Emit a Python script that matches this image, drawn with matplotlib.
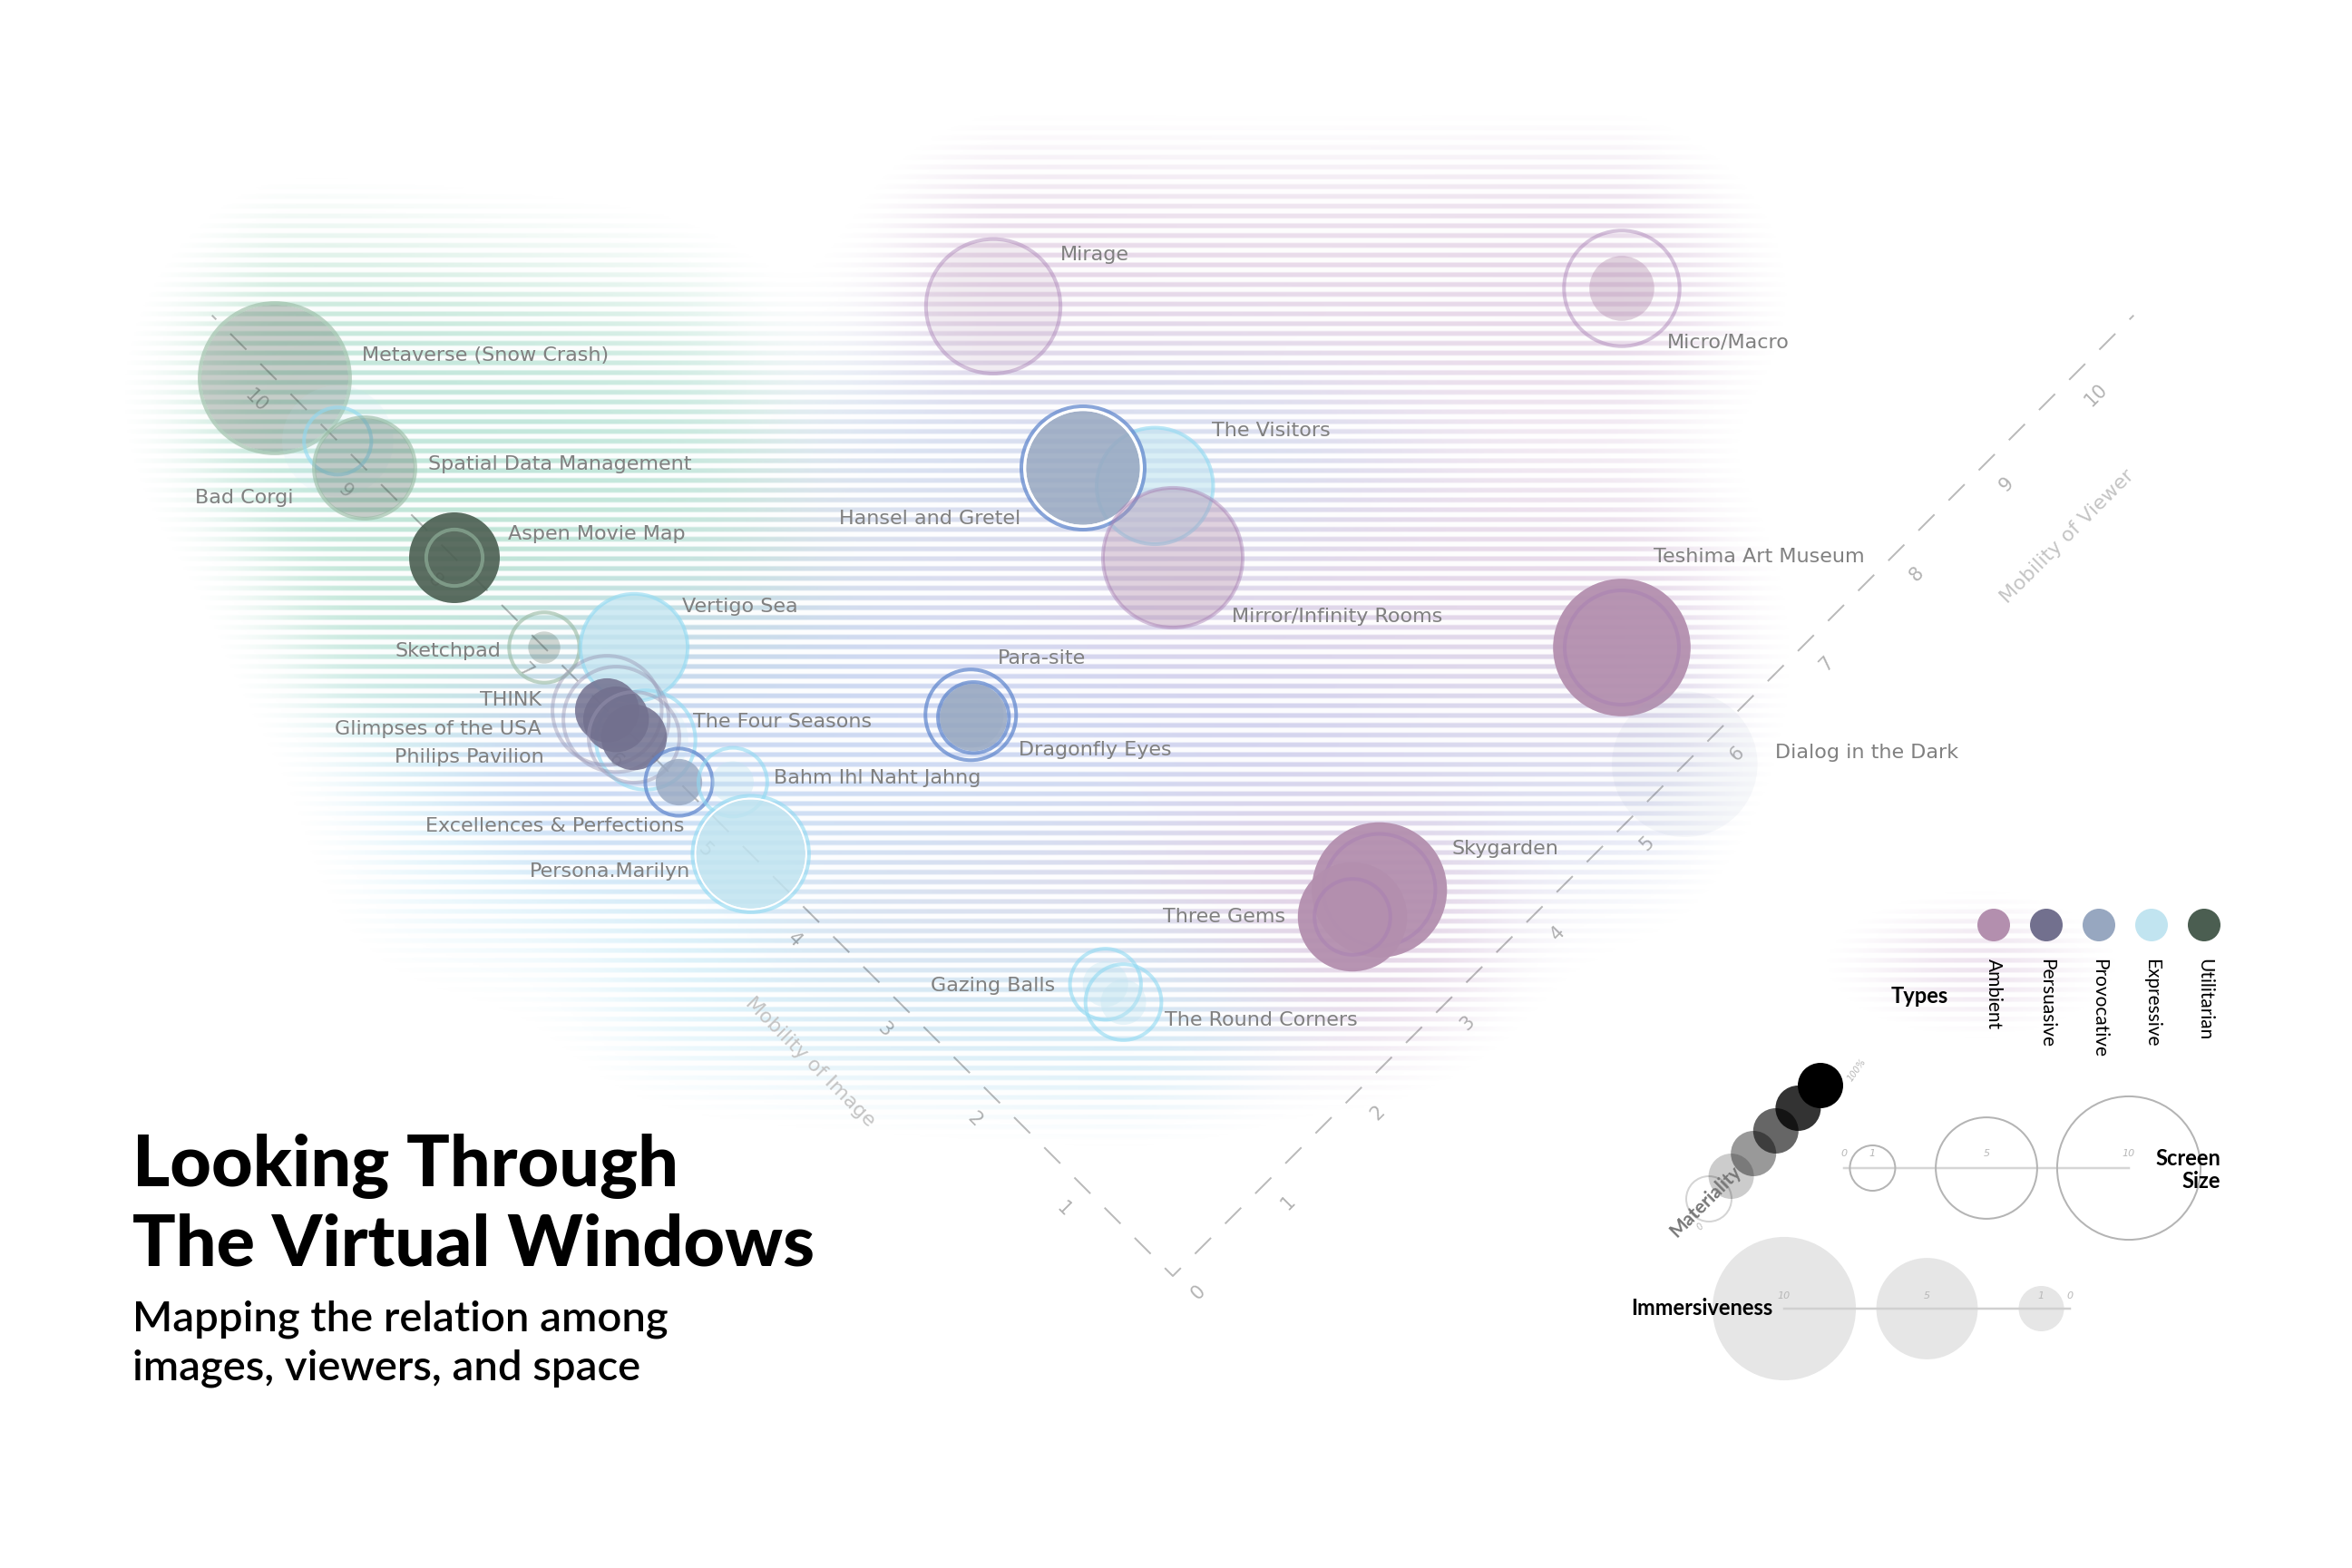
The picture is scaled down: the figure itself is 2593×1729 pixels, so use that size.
import numpy as np
import matplotlib.pyplot as plt
from matplotlib.patches import Circle
from matplotlib.transforms import Affine2D
from matplotlib.colors import to_rgb

plt.rcParams['lines.scale_dashes'] = False

W, H, DPI = 2593, 1729, 100
PX = 72.0 / DPI  # points per pixel

# Data
names = ['Metaverse (Snow Crash)', 'Bad Corgi', 'Spatial Data Management', 'Aspen Movie Map',
         'Sketchpad', 'Vertigo Sea', 'The Four Seasons', 'THINK', 'Glimpses of the USA',
         'Philips Pavilion', 'Excellences & Perfections', 'Bahm Ihl Naht Jahng', 'Persona.Marilyn',
         'Mirage', 'Micro/Macro', 'The Visitors', 'Hansel and Gretel', 'Mirror/Infinity Rooms',
         'Para-site', 'Dragonfly Eyes', 'Teshima Art Museum', 'Dialog in the Dark',
         'Skygarden', 'Three Gems', 'Gazing Balls', 'The Round Corners']
kinds = ['Utilitarian', 'Expressive', 'Utilitarian', 'Utilitarian', 'Utilitarian', 'Expressive',
         'Expressive', 'Persuasive', 'Persuasive', 'Persuasive', 'Provocative', 'Expressive',
         'Expressive', 'Ambient', 'Ambient', 'Expressive', 'Provocative', 'Ambient',
         'Provocative', 'Provocative', 'Ambient', 'Provocative', 'Ambient', 'Ambient',
         'Expressive', 'Expressive']
viewer_mob = [0, 0, 0, 0, 0, 0.5, 0.05, 0, 0, 0, 0, 0.3, 0,
              4.4, 8, 4.3, 4, 4, 2.0, 2.0, 6, 5.7, 3.3, 3.0, 1.25, 1.25]
image_mob = [10, 9.3, 9, 8, 7, 6.5, 5.92, 6.3, 6.2, 6.0, 5.5, 5.2, 4.7,
             6.4, 3, 4.5, 5, 4, 4.25, 4.22, 1, 0, 1.0, 1.0, 2.0, 1.8]
immersiveness = [10.5, 6.0, 4.8, 4.0, 0.5, 5.6, 3.5, 2.0, 2.1, 2.1, 1.05, 0.85, 5.8,
                 8.6, 2.05, 6.6, 6.3, 9.5, 2.1, 2.2, 9.2, 10.3, 8.9, 5.8, 1.0, 1.0]
screen_size = [11.0, 2.2, 5.0, 1.55, 2.4, 5.6, 4.8, 5.8, 5.4, 4.0, 2.2, 2.3, 6.6,
               8.8, 6.5, 6.6, 7.4, 9.5, 4.0, 2.45, 6.35, 0, 6.1, 2.8, 2.45, 2.8]
materiality = [0.3, 0.12, 0.3, 0.9, 0.25, 0.75, 0.2, 0.85, 0.85, 0.85, 0.8, 0.35, 0.85,
               0.15, 0.4, 0.6, 0.85, 0.4, 0.3, 0.85, 0.95, 0.08, 0.95, 0.95, 0.35, 0.35]

type_names = ['Ambient', 'Persuasive', 'Provocative', 'Expressive', 'Utilitarian']
axis_ticks = list(range(0, 11))
legend_screen = [1, 5, 10]
legend_immersive = [10, 5, 1]
legend_material = [0, 20, 40, 60, 80, 100]

# Styles
type_fill = {'Ambient': '#b38fae', 'Persuasive': '#72708e', 'Provocative': '#97a7c0',
             'Expressive': '#c1e4f0', 'Utilitarian': '#4b5e51'}
type_ring = {'Ambient': (0.65, 0.49, 0.70, 0.45), 'Persuasive': (0.60, 0.59, 0.70, 0.45),
             'Provocative': (0.37, 0.52, 0.80, 0.72), 'Expressive': (0.56, 0.85, 0.95, 0.6),
             'Utilitarian': (0.59, 0.72, 0.63, 0.6)}
type_halo = {'Ambient': '#c59fc8', 'Persuasive': '#7f7ce0', 'Provocative': '#9cafe2',
             'Expressive': '#98ddf3', 'Utilitarian': '#6cc296'}
halo_gain = {'Ambient': 1.4, 'Persuasive': 1.0, 'Provocative': 1.0, 'Expressive': 1.0,
             'Utilitarian': 1.4}

# label offsets from bubble centre (px) and alignment
label_pos = [(96, -25, 'left'), (-49, 63, 'right'), (70, -4, 'left'), (59, -26, 'left'),
             (-48, 4, 'right'), (53, -45, 'left'), (52, -20, 'left'), (-72, -11, 'right'),
             (-82, 11, 'right'), (-99, 22, 'right'), (6, 48, 'right'), (45, -5, 'left'),
             (-67, 19, 'right'), (74, -57, 'left'), (50, 59, 'left'), (63, -61, 'left'),
             (-69, 56, 'right'), (65, 65, 'left'), (30, -62, 'left'), (50, 36, 'left'),
             (35, -100, 'left'), (100, -13, 'left'), (80, -45, 'left'), (-74, 0, 'right'),
             (-56, 2, 'right'), (45, 20, 'left')]
# how far each striped halo reaches left / right beyond the bubble (px)
halo_reach = [(-30, 420), (0, 380), (0, 400), (100, 330), (180, 250), (250, 420),
              (250, 450), (60, 800), (60, 800), (60, 800), (100, 800), (150, 450),
              (350, 400), (-10, 700), (700, 0), (300, 100), (250, 300), (400, 500),
              (300, 700), (300, 700), (700, -20), (500, -110), (600, 20), (600, 10),
              (500, 100), (500, 100)]

fig = plt.figure(figsize=(W / DPI, H / DPI), dpi=DPI)
ax = fig.add_axes([0, 0, 1, 1])
ax.set_xlim(0, W)
ax.set_ylim(H, 0)
ax.axis('off')

# 45 degree chart: (viewer, image) -> pixels
UNIT = 99.0
OX, OY = 1293.0, 1407.0
grid = Affine2D(np.array([[UNIT, -UNIT, OX], [-UNIT, -UNIT, OY], [0, 0, 1.0]]))
chart = grid + ax.transData
SCALE = UNIT * np.sqrt(2)


def radius(v):
    return 25.0 * np.sqrt(v)


centres = grid.transform(np.column_stack([viewer_mob, image_mob]))

# striped halos behind the bubbles
step = 2
hs, ws = H // step + 1, W // step + 1
ys = (np.arange(hs) * step).astype(np.float32)[:, None]
xs = (np.arange(ws) * step).astype(np.float32)[None, :]
acc = np.zeros((hs, ws), np.float32)
col = np.zeros((hs, ws, 3), np.float32)

sources = []
for k in range(len(names)):
    xb, yb = centres[k]
    rr = max(radius(immersiveness[k]), radius(screen_size[k]))
    el, er = halo_reach[k]
    sources.append((xb, yb, xb - rr - el, xb + rr + er, 35 + 0.75 * rr,
                    type_halo[kinds[k]], halo_gain[kinds[k]]))
# small halo behind the types legend
sources.append((2198, 1062, 2100, 2240, 40, type_halo['Ambient'], 1.0))

for xb, yb, left, right, sy, hc, amp in sources:
    gx = 1 / (1 + np.exp(-(xs - left) / 45)) / (1 + np.exp(-(right - xs) / 45))
    gx = gx * np.exp(-np.abs(xs - xb) / 450)
    gy = np.exp(-0.5 * ((ys - yb) / sy) ** 2)
    w = amp * gy * gx
    acc += w
    col += w[..., None] * np.array(to_rgb(hc), np.float32)

acc = np.repeat(np.repeat(acc, step, 0), step, 1)[:H, :W]
col = np.repeat(np.repeat(col, step, 0), step, 1)[:H, :W]
rgb = col / np.maximum(acc, 1e-6)[..., None]
yy = np.arange(H, dtype=np.float32)[:, None]
stripe = np.clip(2.0 * (0.5 + 0.5 * np.cos(2 * np.pi * yy / 10.8)) - 0.55, 0, 1)
level = np.clip((1 - np.exp(-1.6 * acc) - 0.12) / 0.88, 0, 1)
alpha = 0.45 * level * (0.06 + 0.94 * stripe)
ax.imshow(np.dstack([rgb, alpha]), extent=(0, W, H, 0), zorder=0, interpolation='nearest')

# dashed axes
end = 10.7
axis_len = end * SCALE
on_px, off_px = 25.0, 22.0
offset_px = (-(axis_len - on_px / 2)) % (on_px + off_px)
ax.plot([0, 0, end], [end, 0, 0], transform=chart, color=(0, 0, 0, 0.27), lw=2 * PX,
        linestyle=(offset_px * PX, (on_px * PX, off_px * PX)), solid_capstyle='butt', zorder=1)

tick_kw = dict(fontsize=15, family='DejaVu Sans', color=(0, 0, 0, 0.3), ha='center',
               va='center', zorder=1)
for t in axis_ticks:
    x, y = grid.transform((t, 0))
    ax.text(x + 28, y + 18, str(t), rotation=45, **tick_kw)
    if t > 0:
        x, y = grid.transform((0, t))
        ax.text(x - 21, y + 25, str(t), rotation=-45, **tick_kw)

ax.text(893, 1171, 'Mobility of Image', rotation=-45, fontsize=16, family='DejaVu Sans',
        color='#c4c4c4', ha='center', va='center', zorder=1)
ax.text(2279, 592, 'Mobility of Viewer', rotation=45, fontsize=16, family='DejaVu Sans',
        color='#c4c4c4', ha='center', va='center', zorder=1)

# bubbles
for k in range(len(names)):
    c = (viewer_mob[k], image_mob[k])
    rf = radius(immersiveness[k])
    rs = radius(screen_size[k])
    z = 2 + 0.02 * k
    ax.add_patch(Circle(c, rf / SCALE, transform=chart, facecolor=type_fill[kinds[k]],
                        alpha=materiality[k], lw=0, zorder=z))
    if screen_size[k] > 0:
        gap = rs - rf
        if 2 < gap < 13 and materiality[k] >= 0.3 and rf > 40:
            ax.add_patch(Circle(c, (rf + rs - 2) / 2 / SCALE, transform=chart, fill=False,
                                ec='white', lw=(gap - 2) * PX, zorder=z + 0.005))
        ax.add_patch(Circle(c, rs / SCALE, transform=chart, fill=False,
                            ec=type_ring[kinds[k]], lw=4 * PX, zorder=z + 0.01))

for k, name in enumerate(names):
    dx, dy, ha = label_pos[k]
    ax.text(centres[k][0] + dx, centres[k][1] + dy, name, fontsize=16, family='DejaVu Sans',
            color='#808080', ha=ha, va='center', zorder=5)

# title
ax.text(146, 1308, 'Looking Through', fontsize=57, family='Lato', fontweight='black',
        va='baseline', color='black')
ax.text(146, 1395, 'The Virtual Windows', fontsize=57, family='Lato', fontweight='black',
        va='baseline', color='black')
ax.text(146, 1468, 'Mapping the relation among', fontsize=34, family='Lato',
        fontweight='semibold', va='baseline', color='black')
ax.text(146, 1522, 'images, viewers, and space', fontsize=34, family='Lato',
        fontweight='semibold', va='baseline', color='black')

# legend: types
for k, t in enumerate(type_names):
    x = 2198 + 58 * k
    ax.add_patch(Circle((x, 1020), 18, facecolor=type_fill[t], lw=0, zorder=3))
    ax.text(x, 1057, t, rotation=-90, fontsize=15, family='Lato', ha='center', va='top',
            color='black', zorder=3)
ax.text(2148, 1098, 'Types', fontsize=17, family='Lato', fontweight='bold', ha='right',
        va='center', zorder=3)

# legend: materiality
for m in legend_material:
    x = 1884 + 24.6 * m / 20
    y = 1322 - 25 * m / 20
    if m == 0:
        ax.add_patch(Circle((x, y), 25, fill=False, ec='#d4d4d4', lw=2 * PX, zorder=3))
    else:
        ax.add_patch(Circle((x, y), 25, facecolor='black', alpha=m / 100, lw=0, zorder=3))
ax.text(1880, 1325, 'Materiality', rotation=45, fontsize=15, family='Lato', fontweight='bold',
        color='#777777', ha='center', va='center', zorder=4)
ax.text(2047, 1180, '100%', rotation=55, fontsize=7, style='italic', color='#b8b8b8',
        ha='center', va='center')
ax.text(1875, 1353, '0', rotation=45, fontsize=7, style='italic', color='#b8b8b8',
        ha='center', va='center')

# legend: screen size
ax.plot([2033, 2033 + 31.4 * 10], [1288, 1288], color='#d6d6d6', lw=2.5 * PX, zorder=3)
for v in legend_screen:
    ax.add_patch(Circle((2033 + 31.4 * v, 1288), radius(v), fill=False, ec='#b4b4b4',
                        lw=2 * PX, zorder=3))
for v in [0] + legend_screen:
    ax.text(2033 + 31.4 * v, 1277, str(v), fontsize=8, style='italic', color='#b8b8b8',
            ha='center', va='bottom', zorder=4)
ax.text(2448, 1290, 'Screen\nSize', fontsize=17, family='Lato', fontweight='bold',
        ha='right', va='center', multialignment='right', linespacing=1.1, zorder=4)

# legend: immersiveness
for v in legend_immersive:
    ax.add_patch(Circle((2282 - 31.5 * v, 1443), radius(v), facecolor='#e6e6e6', lw=0,
                        zorder=3))
ax.plot([2282 - 31.5 * 10, 2282], [1443, 1443], color='#d0d0d0', lw=2.5 * PX, zorder=3)
for v in legend_immersive + [0]:
    ax.text(2282 - 31.5 * v, 1434, str(v), fontsize=8, style='italic', color='#b8b8b8',
            ha='center', va='bottom', zorder=4)
ax.text(1954, 1443, 'Immersiveness', fontsize=17, family='Lato', fontweight='bold',
        ha='right', va='center', zorder=4)

fig.savefig('out.png', dpi=DPI, facecolor='white')
